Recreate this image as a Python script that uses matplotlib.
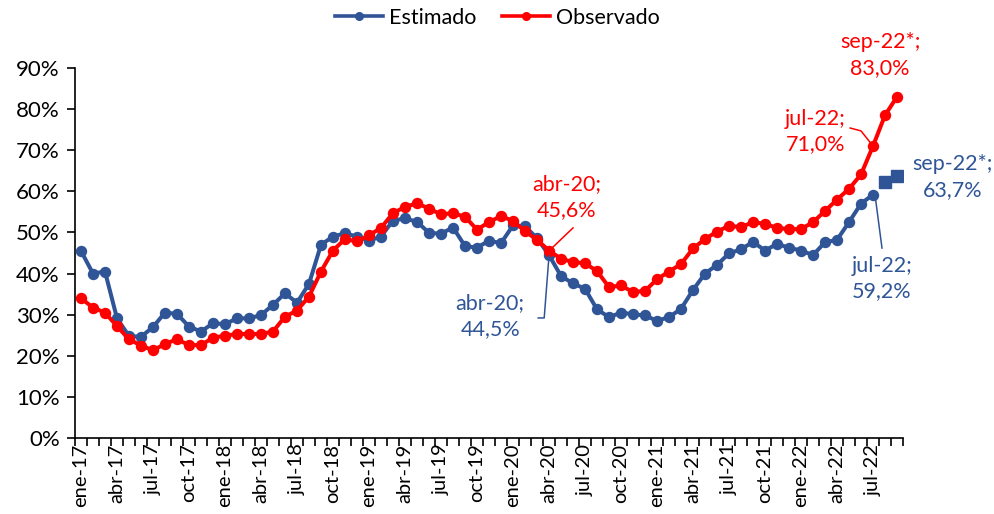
import matplotlib
matplotlib.use("Agg")
import matplotlib.pyplot as plt
from matplotlib.lines import Line2D
import numpy as np

plt.rcParams['font.family'] = ['Lato', 'DejaVu Sans']

months = ["ene", "feb", "mar", "abr", "may", "jun", "jul", "ago", "sep", "oct", "nov", "dic"]
years = ["17", "18", "19", "20", "21", "22"]
n_obs = 69

estimado = [45.5, 40.0, 40.5, 29.1, 24.8, 24.6, 27.0, 30.5, 30.2, 27.1, 25.9, 27.9,
            27.7, 29.1, 29.1, 29.9, 32.4, 35.2, 32.9, 37.5, 47.0, 49.0, 49.8, 49.0,
            48.0, 49.0, 52.9, 53.4, 52.6, 49.9, 49.7, 51.2, 46.7, 46.3, 48.0, 47.4,
            51.7, 51.5, 48.6, 44.5, 39.4, 37.6, 36.3, 31.3, 29.4, 30.5, 30.1, 29.8,
            28.5, 29.4, 31.4, 36.0, 40.0, 42.1, 44.9, 45.9, 47.7, 45.6, 47.2, 46.3,
            45.6, 44.5, 47.6, 48.2, 52.5, 57.0, 59.2]
estimado_proy = [62.2, 63.7]

observado = [34.0, 31.7, 30.5, 27.2, 24.0, 22.5, 21.3, 22.9, 24.0, 22.6, 22.6, 24.4,
             24.9, 25.3, 25.3, 25.3, 25.9, 29.5, 31.0, 34.4, 40.5, 45.6, 48.4, 47.8,
             49.3, 51.1, 54.7, 56.2, 57.1, 55.8, 54.4, 54.7, 53.8, 50.7, 52.5, 54.0,
             52.8, 50.3, 48.2, 45.6, 43.6, 42.8, 42.5, 40.6, 36.7, 37.1, 35.5, 35.8,
             38.6, 40.5, 42.3, 46.1, 48.4, 50.2, 51.6, 51.3, 52.5, 52.1, 51.1, 50.8,
             50.8, 52.5, 55.2, 58.0, 60.6, 64.1, 71.0, 78.5, 83.0]

yticks = [0, 10, 20, 30, 40, 50, 60, 70, 80, 90]

BLUE = "#2F5597"
RED = "#FF0000"

fig = plt.figure(figsize=(9.95, 5.14), dpi=100)
ax = fig.add_axes([75/995, 76/514, 828/995, 370/514])

x_est = np.arange(len(estimado))
x_proy = np.arange(len(estimado), len(estimado) + len(estimado_proy))
x_obs = np.arange(len(observado))

ax.plot(x_est, estimado, color=BLUE, lw=2.9, marker='o', ms=7.2, zorder=3)
ax.plot(x_proy, estimado_proy, color=BLUE, lw=0, marker='s', ms=8.0, zorder=3)
ax.plot(x_obs, observado, color=RED, lw=2.9, marker='o', ms=7.2, zorder=4)

ax.set_xlim(-0.5, n_obs - 0.5)
ax.set_ylim(0, 90)
ax.set_yticks(yticks)
ax.set_yticklabels([f"{v}%" for v in yticks], fontsize=16)

ax.set_xticks(np.arange(-0.5, n_obs, 1.0), minor=True)
lab_pos = np.arange(0, n_obs, 3)
lab_txt = [f"{months[i % 12]}-{years[i // 12]}" for i in lab_pos]
ax.set_xticks(lab_pos)
ax.set_xticklabels(lab_txt, rotation=90, fontsize=14.5)
ax.tick_params(axis='x', which='major', length=0, pad=4)
ax.tick_params(axis='x', which='minor', length=6, width=1.2, direction='out')
ax.tick_params(axis='y', length=6, width=1.2, direction='out', pad=5)

for s in ['top', 'right']:
    ax.spines[s].set_visible(False)
for s in ['left', 'bottom']:
    ax.spines[s].set_linewidth(1.2)

fs = 15.5
ls = 1.35

def label(x, y, txt, color):
    ax.text(x, y, txt, color=color, fontsize=fs, ha='center', va='center',
            linespacing=ls, zorder=6, clip_on=False)

def leader(xs, ys, color):
    ax.plot(xs, ys, color=color, lw=1.1, zorder=5, clip_on=False)

label(40.5, 58.6, "abr-20;\n45,6%", RED)
leader([41.0, 39.1], [51.1, 45.8], RED)

label(34.1, 29.6, "abr-20;\n44,5%", BLUE)
leader([38.1, 38.6, 39.0], [29.2, 29.2, 44.3], BLUE)

label(61.2, 74.6, "jul-22;\n71,0%", RED)
leader([64.1, 65.0, 65.9], [75.4, 74.7, 71.4], RED)

label(66.75, 38.8, "jul-22;\n59,2%", BLUE)
leader([66.2, 66.75], [58.4, 46.2], BLUE)

label(66.6, 93.2, "sep-22*;\n83,0%", RED)
label(72.6, 63.5, "sep-22*;\n63,7%", BLUE)

handles = [Line2D([], [], color=BLUE, lw=2.6, marker='o', ms=5.5),
           Line2D([], [], color=RED, lw=2.6, marker='o', ms=5.5)]
fig.legend(handles, ["Estimado", "Observado"], loc='center', bbox_to_anchor=(0.5, 1 - 18/514),
           ncol=2, frameon=False, fontsize=15.5, handlelength=2.2, columnspacing=1.2,
           handletextpad=0.3)

fig.savefig("out.png", dpi=100)
